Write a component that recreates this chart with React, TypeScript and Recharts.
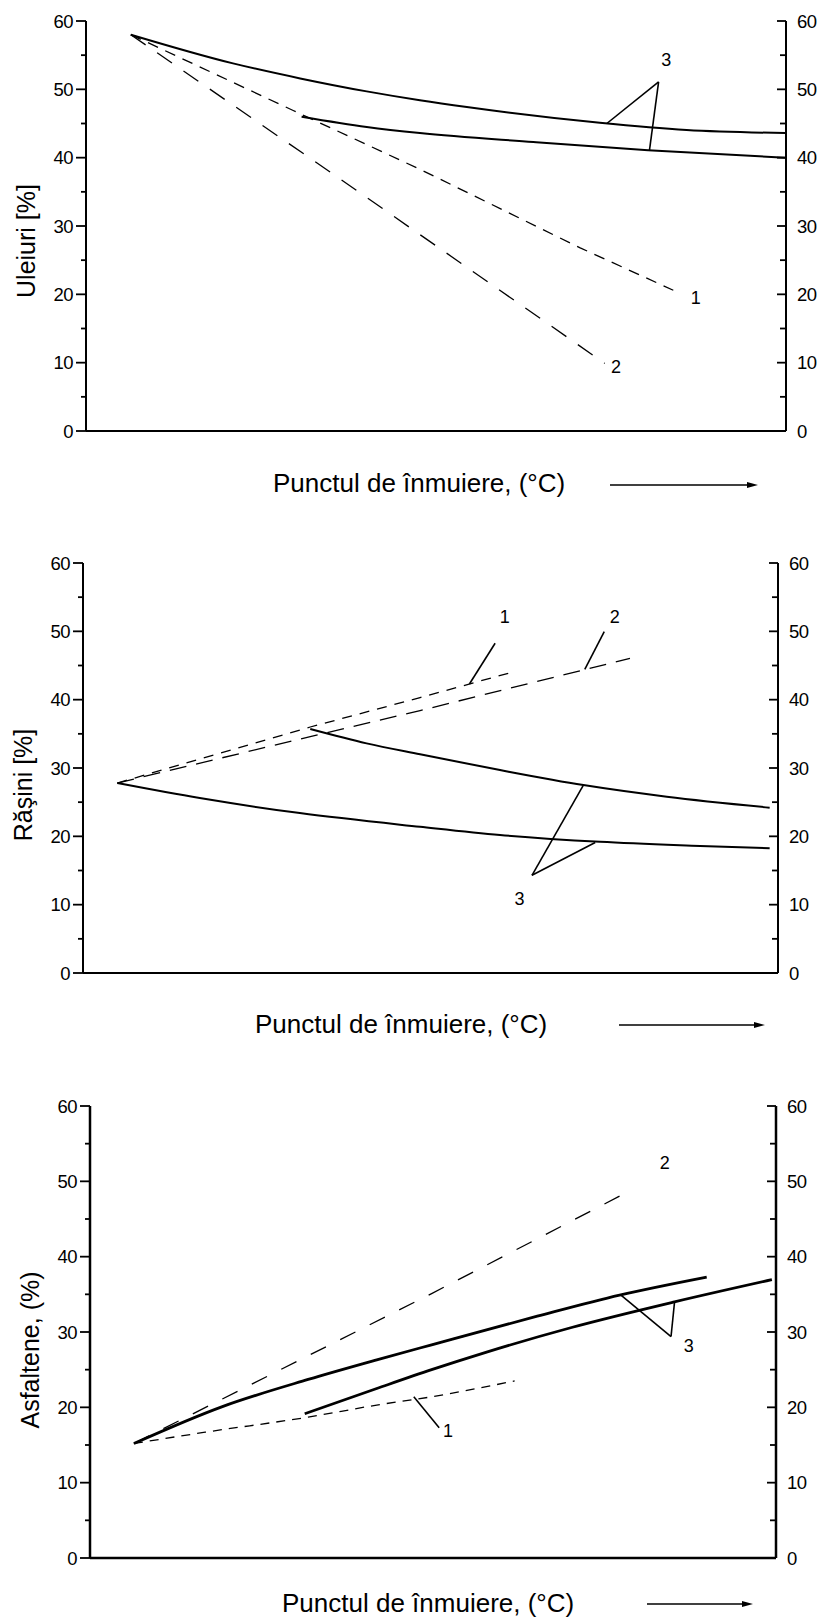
import React from 'react';
import { LineChart, Line, XAxis, YAxis, ReferenceLine, ReferenceDot } from 'recharts';

type Pt = { x: number; y: number };
type Note = { x: number; y: number; text: string };

const FONT = '"Liberation Sans", Arial, Helvetica, sans-serif';

// y axis ticks shared by all three panels (labels only on multiples of 10)
const yTicks = [0, 5, 10, 15, 20, 25, 30, 35, 40, 45, 50, 55, 60];

// ---- Uleiuri [%] ----
const uleiuri1: Pt[] = [
  { x: 6.4, y: 58 }, { x: 29.6, y: 46.9 }, { x: 47.7, y: 38.3 }, { x: 70.6, y: 26.8 }, { x: 83.9, y: 20.6 },
];
const uleiuri2: Pt[] = [
  { x: 6.4, y: 58 }, { x: 35.3, y: 37.6 }, { x: 74.1, y: 9.9 },
];
const uleiuri3Upper: Pt[] = [
  { x: 6.4, y: 58 }, { x: 21, y: 53.8 }, { x: 30.6, y: 51.6 }, { x: 40.1, y: 49.7 }, { x: 47.7, y: 48.4 },
  { x: 54.4, y: 47.4 }, { x: 73.4, y: 45.1 }, { x: 85.8, y: 44.05 }, { x: 99.9, y: 43.6 },
];
const uleiuri3Lower: Pt[] = [
  { x: 30.8, y: 46.0 }, { x: 40.1, y: 44.5 }, { x: 47.7, y: 43.6 }, { x: 63.9, y: 42.3 }, { x: 80.3, y: 41.1 },
  { x: 99.9, y: 40.0 },
];
const uleiuriLeaders: Pt[][] = [
  [{ x: 74.4, y: 45.0 }, { x: 81.8, y: 51.1 }],
  [{ x: 81.8, y: 51.1 }, { x: 80.5, y: 41.1 }],
];
const uleiuriNotes: Note[] = [
  { x: 82.9, y: 54.3, text: '3' }, { x: 87.1, y: 19.5, text: '1' }, { x: 75.7, y: 9.4, text: '2' },
];

// ---- Răşini [%] ----
const rasini1: Pt[] = [
  { x: 4.94, y: 27.8 }, { x: 32.7, y: 36.0 }, { x: 48.5, y: 40.3 }, { x: 61.5, y: 43.95 },
];
const rasini2: Pt[] = [
  { x: 4.94, y: 27.8 }, { x: 32.7, y: 34.6 }, { x: 48.5, y: 38.4 }, { x: 78.7, y: 46.05 },
];
const rasini3Lower: Pt[] = [
  { x: 4.94, y: 27.8 }, { x: 16.8, y: 25.6 }, { x: 31.2, y: 23.4 }, { x: 48.5, y: 21.4 }, { x: 60, y: 20.2 },
  { x: 74.4, y: 19.2 }, { x: 88.8, y: 18.6 }, { x: 98.8, y: 18.25 },
];
const rasini3Upper: Pt[] = [
  { x: 32.7, y: 35.7 }, { x: 40.8, y: 33.6 }, { x: 48.5, y: 32.0 }, { x: 60, y: 29.7 }, { x: 72, y: 27.5 },
  { x: 84, y: 25.8 }, { x: 98.8, y: 24.2 },
];
const rasiniLeaders: Pt[][] = [
  [{ x: 59.3, y: 48.25 }, { x: 55.6, y: 42.3 }],
  [{ x: 75.0, y: 49.95 }, { x: 72.2, y: 44.45 }],
  [{ x: 64.6, y: 14.3 }, { x: 72.0, y: 27.5 }],
  [{ x: 64.6, y: 14.3 }, { x: 73.7, y: 19.1 }],
];
const rasiniNotes: Note[] = [
  { x: 60.7, y: 52.2, text: '1' }, { x: 76.5, y: 52.1, text: '2' }, { x: 62.8, y: 10.9, text: '3' },
];

// ---- Asfaltene, (%) ----
const asfaltene1: Pt[] = [
  { x: 6.4, y: 15.2 }, { x: 16.8, y: 16.7 }, { x: 31.8, y: 18.7 }, { x: 41.8, y: 20.3 }, { x: 49.8, y: 21.4 },
  { x: 61.9, y: 23.5 },
];
const asfaltene2: Pt[] = [
  { x: 6.4, y: 15.2 }, { x: 49.8, y: 35.1 }, { x: 78.6, y: 48.7 },
];
const asfaltene3Upper: Pt[] = [
  { x: 6.4, y: 15.2 }, { x: 19.3, y: 20.1 }, { x: 31.8, y: 23.7 }, { x: 41.8, y: 26.3 }, { x: 49.8, y: 28.3 },
  { x: 65.2, y: 32.1 }, { x: 77.2, y: 34.9 }, { x: 89.9, y: 37.3 },
];
const asfaltene3Lower: Pt[] = [
  { x: 31.3, y: 19.15 }, { x: 41.8, y: 22.5 }, { x: 49.8, y: 25.0 }, { x: 57.7, y: 27.3 }, { x: 70.2, y: 30.6 },
  { x: 85.2, y: 34.0 }, { x: 99.4, y: 36.95 },
];
const asfalteneLeaders: Pt[][] = [
  [{ x: 77.4, y: 34.9 }, { x: 84.7, y: 29.4 }],
  [{ x: 84.7, y: 29.4 }, { x: 85.2, y: 33.9 }],
  [{ x: 47.2, y: 21.4 }, { x: 50.9, y: 17.3 }],
];
const asfalteneNotes: Note[] = [
  { x: 83.8, y: 52.5, text: '2' }, { x: 87.3, y: 28.2, text: '3' }, { x: 52.2, y: 16.9, text: '1' },
];

const LeftTick = (props: any) => {
  const { x, y, payload } = props;
  const major = payload.value % 10 === 0;
  return (
    <g>
      <line x1={x - (major ? 10 : 5)} y1={y} x2={x} y2={y} stroke="#000" strokeWidth={1.8} />
      {major && (
        <text x={x - 13} y={y} dy={6.5} textAnchor="end" fontSize={18.5} letterSpacing={-0.6}
          fill="#000" fontFamily={FONT}>
          {payload.value}
        </text>
      )}
    </g>
  );
};

const RightTick = (props: any) => {
  const { x, y, payload } = props;
  const major = payload.value % 10 === 0;
  return (
    <g>
      <line x1={x - (major ? 9 : 6)} y1={y} x2={x} y2={y} stroke="#000" strokeWidth={1.8} />
      {major && (
        <text x={x + 11} y={y} dy={6.5} textAnchor="start" fontSize={18.5} letterSpacing={-0.6}
          fill="#000" fontFamily={FONT}>
          {payload.value}
        </text>
      )}
    </g>
  );
};

interface Series {
  data: Pt[];
  dash?: string;
  width: number;
  curve: 'monotone' | 'linear';
}

interface PanelProps {
  top: number;
  height: number;
  marginTop: number;
  leftWidth: number;
  rightWidth: number;
  axisWidth: number;
  series: Series[];
  leaders: Pt[][];
  notes: Note[];
}

function Panel({ top, height, marginTop, leftWidth, rightWidth, axisWidth, series, leaders, notes }: PanelProps) {
  return (
    <div style={{ position: 'absolute', top, left: 0 }}>
      <LineChart width={819} height={height} margin={{ top: marginTop, right: 0, left: 0, bottom: 0 }}>
        <XAxis dataKey="x" type="number" domain={[0, 100]} height={10} tick={false} tickLine={false}
          axisLine={{ stroke: '#000', strokeWidth: axisWidth }} />
        <YAxis yAxisId="left" orientation="left" type="number" width={leftWidth} domain={[0, 60]}
          allowDataOverflow ticks={yTicks} interval={0} tickSize={0} tickMargin={0} tickLine={false}
          tick={(p: any) => <LeftTick {...p} />} axisLine={{ stroke: '#000', strokeWidth: axisWidth }} />
        <YAxis yAxisId="right" orientation="right" type="number" width={rightWidth} domain={[0, 60]}
          allowDataOverflow ticks={yTicks} interval={0} tickSize={0} tickMargin={0} tickLine={false}
          tick={(p: any) => <RightTick {...p} />} axisLine={{ stroke: '#000', strokeWidth: axisWidth }} />
        {series.map((s, i) => (
          <Line key={i} yAxisId="left" data={s.data} dataKey="y" type={s.curve} stroke="#000"
            strokeWidth={s.width} strokeDasharray={s.dash} dot={false} activeDot={false}
            isAnimationActive={false} />
        ))}
        {/* same curve bound to the right scale so the right axis gets a domain; not painted */}
        <Line yAxisId="right" data={series[series.length - 1].data} dataKey="y" type="linear"
          stroke="none" dot={false} activeDot={false} legendType="none" isAnimationActive={false} />
        {leaders.map((seg, i) => (
          <ReferenceLine key={'l' + i} yAxisId="left" segment={seg} stroke="#000" strokeWidth={1.6}
            ifOverflow="visible" />
        ))}
        {notes.map((n, i) => (
          <ReferenceDot key={'n' + i} yAxisId="left" x={n.x} y={n.y} r={0} fill="none" stroke="none"
            ifOverflow="visible"
            label={{ value: n.text, position: 'center', fontSize: 18, fill: '#000', fontFamily: FONT }} />
        ))}
      </LineChart>
    </div>
  );
}

function Arrow({ x1, x2, y }: { x1: number; x2: number; y: number }) {
  return (
    <g>
      <line x1={x1} y1={y} x2={x2 - 8} y2={y} stroke="#000" strokeWidth={1.6} />
      <polygon points={`${x2},${y} ${x2 - 11},${y - 3} ${x2 - 11},${y + 3}`} fill="#000" />
    </g>
  );
}

export default function App() {
  const titleStyle = { fontFamily: FONT, fill: '#000' };
  return (
    <div style={{ position: 'absolute', top: 0, left: 0, width: 819, height: 1617, background: '#fff' }}>
      <Panel top={0} height={441} marginTop={21} leftWidth={86} rightWidth={33} axisWidth={2}
        series={[
          { data: uleiuri1, dash: '11 8', width: 1.3, curve: 'linear' },
          { data: uleiuri2, dash: '18 14', width: 1.3, curve: 'linear' },
          { data: uleiuri3Upper, width: 2, curve: 'monotone' },
          { data: uleiuri3Lower, width: 2, curve: 'monotone' },
        ]}
        leaders={uleiuriLeaders} notes={uleiuriNotes} />
      <Panel top={540} height={443} marginTop={23} leftWidth={83} rightWidth={41} axisWidth={2}
        series={[
          { data: rasini1, dash: '10 8', width: 1.3, curve: 'linear' },
          { data: rasini2, dash: '17 10', width: 1.3, curve: 'linear' },
          { data: rasini3Lower, width: 2, curve: 'monotone' },
          { data: rasini3Upper, width: 2, curve: 'monotone' },
        ]}
        leaders={rasiniLeaders} notes={rasiniNotes} />
      <Panel top={1080} height={488} marginTop={26} leftWidth={90} rightWidth={43} axisWidth={2.5}
        series={[
          { data: asfaltene1, dash: '9 7', width: 1.3, curve: 'monotone' },
          { data: asfaltene2, dash: '17 16', width: 1.3, curve: 'linear' },
          { data: asfaltene3Upper, width: 2.8, curve: 'monotone' },
          { data: asfaltene3Lower, width: 2.8, curve: 'monotone' },
        ]}
        leaders={asfalteneLeaders} notes={asfalteneNotes} />
      <svg width={819} height={1617} style={{ position: 'absolute', top: 0, left: 0, pointerEvents: 'none' }}>
        <text transform="translate(35, 241) rotate(-90)" textAnchor="middle" fontSize={25} {...titleStyle}>
          Uleiuri [%]
        </text>
        <text transform="translate(32, 785) rotate(-90)" textAnchor="middle" fontSize={25} {...titleStyle}>
          Răşini [%]
        </text>
        <text transform="translate(39, 1350) rotate(-90)" textAnchor="middle" fontSize={25} {...titleStyle}>
          Asfaltene, (%)
        </text>
        <text x={273} y={492} fontSize={26} {...titleStyle}>Punctul de înmuiere, (°C)</text>
        <Arrow x1={610} x2={758} y={485} />
        <text x={255} y={1033} fontSize={26} {...titleStyle}>Punctul de înmuiere, (°C)</text>
        <Arrow x1={619} x2={765} y={1025} />
        <text x={282} y={1612} fontSize={26} {...titleStyle}>Punctul de înmuiere, (°C)</text>
        <Arrow x1={647} x2={753} y={1604} />
      </svg>
    </div>
  );
}
